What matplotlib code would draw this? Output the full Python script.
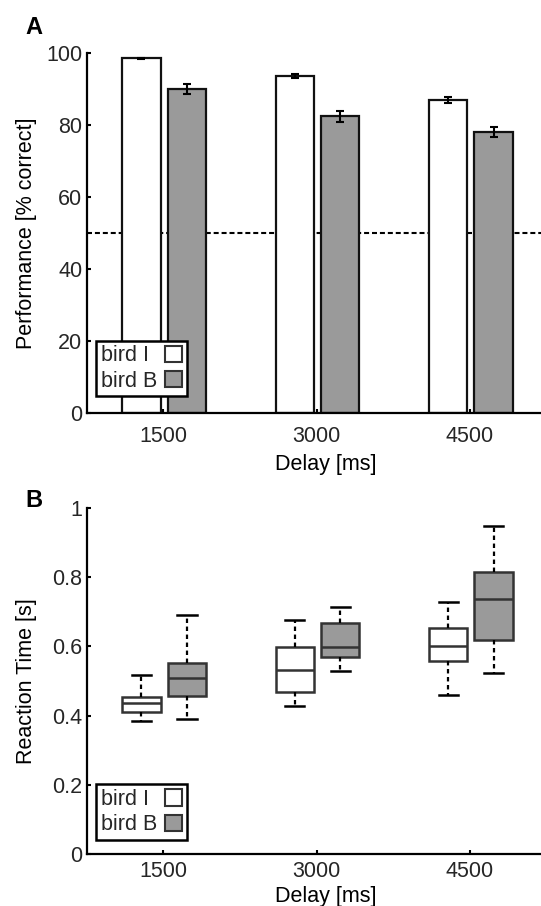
import numpy as np
import matplotlib.pyplot as plt
from matplotlib.patches import Patch

plt.rcParams['font.family'] = ['Liberation Sans', 'DejaVu Sans']
plt.rcParams['font.size'] = 15.5
plt.rcParams['text.color'] = '#262626'
plt.rcParams['xtick.color'] = 'black'
plt.rcParams['ytick.color'] = 'black'
plt.rcParams['xtick.labelcolor'] = '#262626'
plt.rcParams['ytick.labelcolor'] = '#262626'

# data
delays = [1500, 3000, 4500]
delay_labels = ['1500', '3000', '4500']
bird_labels = ['bird I', 'bird B']

perf_I = [98.5, 93.6, 87.0]
perf_I_err = [0.2, 0.6, 0.8]
perf_B = [89.9, 82.4, 78.0]
perf_B_err = [1.4, 1.45, 1.4]
chance = 50

perf_ticks = [0, 20, 40, 60, 80, 100]
rt_ticks = [0, 0.2, 0.4, 0.6, 0.8, 1]
rt_tick_labels = ['0', '0.2', '0.4', '0.6', '0.8', '1']

# reaction time [s]: lower whisker, q1, median, q3, upper whisker
rt_I_lo = [0.384, 0.429, 0.460]
rt_I_q1 = [0.410, 0.467, 0.557]
rt_I_med = [0.435, 0.531, 0.602]
rt_I_q3 = [0.455, 0.597, 0.652]
rt_I_hi = [0.517, 0.675, 0.728]

rt_B_lo = [0.391, 0.530, 0.523]
rt_B_q1 = [0.458, 0.570, 0.619]
rt_B_med = [0.510, 0.597, 0.736]
rt_B_q3 = [0.553, 0.668, 0.814]
rt_B_hi = [0.691, 0.713, 0.948]

white = 'white'
grey = '#9a9a9a'
off_I, off_B, width = -212, 233, 375

W, H = 541, 906
fig = plt.figure(figsize=(W / 100, H / 100), dpi=100)


def style_axis(ax, xpad):
    for s in ['top', 'right']:
        ax.spines[s].set_visible(False)
    for s in ['left', 'bottom']:
        ax.spines[s].set_linewidth(1.6)
        ax.spines[s].set_color('black')
    ax.tick_params(direction='in', length=3, width=1.5)
    ax.tick_params(axis='x', pad=xpad)
    ax.tick_params(axis='y', pad=3)
    ax.set_xlim(750, 5250)
    ax.set_xticks(delays)
    ax.set_xticklabels(delay_labels)


def add_legend(ax, y):
    handles = [Patch(facecolor=white, edgecolor='#333333', linewidth=1.5),
               Patch(facecolor=grey, edgecolor='#333333', linewidth=1.5)]
    leg = ax.legend(handles, bird_labels, loc='lower left', bbox_to_anchor=(0.021, y),
                    borderaxespad=0, markerfirst=False, handlelength=0.8,
                    handleheight=0.8, handletextpad=0.35, borderpad=0.22,
                    labelspacing=0.2, fancybox=False, framealpha=1,
                    edgecolor='black', fontsize=15.5)
    leg.get_frame().set_linewidth(1.8)
    # labels flush left, squares on the right
    fig.canvas.draw()
    texts = leg.get_texts()
    r = fig.canvas.get_renderer()
    widths = [t.get_window_extent(r).width for t in texts]
    for t, w in zip(texts, widths):
        t.set_ha('left')
        t.set_position((-(max(widths) - w), 0))
    return leg


# ---- panel A
axA = fig.add_axes([86.5 / W, 1 - 413.3 / H, 460 / W, 360.3 / H])
axA.axhline(chance, color='black', lw=1.5, ls=(0, (2.4, 1.4)), zorder=0)
xI = [d + off_I for d in delays]
xB = [d + off_B for d in delays]
axA.bar(xI, perf_I, width=width, color=white, edgecolor='#111111', linewidth=1.6, zorder=2)
axA.bar(xB, perf_B, width=width, color=grey, edgecolor='#111111', linewidth=1.6, zorder=2)
axA.errorbar(xI, perf_I, yerr=perf_I_err, fmt='none', ecolor='black', elinewidth=1.5,
             capsize=3, capthick=1.5, zorder=3)
axA.errorbar(xB, perf_B, yerr=perf_B_err, fmt='none', ecolor='black', elinewidth=1.5,
             capsize=3, capthick=1.5, zorder=3)
axA.set_ylim(0, 100)
axA.set_yticks(perf_ticks)
style_axis(axA, 9)
axA.set_ylabel('Performance [% correct]')
axA.yaxis.set_label_coords(-0.108, 0.5)
axA.set_xlabel('Delay [ms]')
axA.xaxis.set_label_coords(0.52, -0.112)

# ---- panel B
axB = fig.add_axes([86.5 / W, 1 - 854 / H, 460 / W, 346 / H])


def stats(lo, q1, med, q3, hi):
    return [dict(whislo=a, q1=b, med=c, q3=d, whishi=e, fliers=[])
            for a, b, c, d, e in zip(lo, q1, med, q3, hi)]


for st, xs, fc in [(stats(rt_I_lo, rt_I_q1, rt_I_med, rt_I_q3, rt_I_hi), xI, white),
                   (stats(rt_B_lo, rt_B_q1, rt_B_med, rt_B_q3, rt_B_hi), xB, grey)]:
    axB.bxp(st, positions=xs, widths=width, patch_artist=True, showfliers=False,
            manage_ticks=False,
            boxprops=dict(facecolor=fc, edgecolor='#333333', linewidth=1.8),
            medianprops=dict(color='#333333', linewidth=1.8),
            whiskerprops=dict(color='black', linewidth=1.6, linestyle=(0, (2, 1.6))),
            capprops=dict(color='black', linewidth=1.8))

axB.set_ylim(0, 1)
axB.set_yticks(rt_ticks)
axB.set_yticklabels(rt_tick_labels)
style_axis(axB, 5)
axB.set_ylabel('Reaction Time [s]')
axB.yaxis.set_label_coords(-0.108, 0.5)
axB.set_xlabel('Delay [ms]')
axB.xaxis.set_label_coords(0.52, -0.092)

add_legend(axA, 0.047)
add_legend(axB, 0.040)

fig.text(25 / W, 1 - 34 / H, 'A', fontsize=17, fontweight='bold', color='black')
fig.text(25 / W, 1 - 507 / H, 'B', fontsize=17, fontweight='bold', color='black')

fig.savefig('out.png', dpi=100)
plt.close(fig)
